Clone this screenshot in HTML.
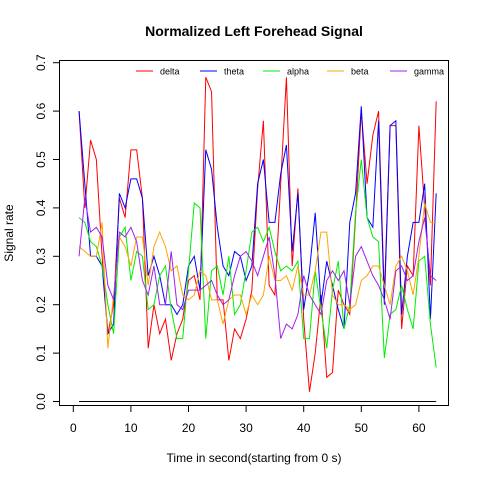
<!DOCTYPE html>
<html><head><meta charset="utf-8"><style>
html,body{margin:0;padding:0;background:#fff;}
svg text{font-family:"Liberation Sans",Arial,sans-serif;}
</style></head><body>
<svg id="chart" width="480" height="480" xmlns="http://www.w3.org/2000/svg">
<text x="254" y="36" text-anchor="middle" font-size="14" font-weight="bold">Normalized Left Forehead Signal</text>
<text x="254" y="462" text-anchor="middle" font-size="12">Time in second(starting from 0 s)</text>
<text transform="translate(13,233) rotate(-90)" text-anchor="middle" font-size="12">Signal rate</text>
<rect x="59.5" y="60.5" width="389" height="345" fill="none" stroke="#000" stroke-width="1"/>
<g id="xaxis"></g>
<g id="yaxis"></g>
<g id="series"></g>
<g id="legend"></g>
</svg>
<script>
const xTicks=[0,10,20,30,40,50,60];
const yTicks=[0,0.1,0.2,0.3,0.4,0.5,0.6,0.7];
const yTickLabels=["0.0","0.1","0.2","0.3","0.4","0.5","0.6","0.7"];
const seriesNames=["delta","theta","alpha","beta","gamma"];
const delta=[0.60,0.40,0.54,0.50,0.30,0.14,0.20,0.42,0.38,0.52,0.52,0.42,0.11,0.20,0.14,0.17,0.085,0.14,0.17,0.25,0.26,0.21,0.67,0.64,0.21,0.21,0.085,0.15,0.13,0.17,0.23,0.44,0.58,0.24,0.22,0.45,0.67,0.28,0.44,0.17,0.02,0.10,0.22,0.05,0.06,0.23,0.20,0.18,0.38,0.60,0.45,0.55,0.60,0.22,0.57,0.57,0.15,0.28,0.26,0.57,0.40,0.24,0.62];
const theta=[0.60,0.45,0.30,0.30,0.28,0.14,0.16,0.43,0.40,0.46,0.46,0.42,0.26,0.30,0.26,0.20,0.20,0.18,0.20,0.28,0.30,0.23,0.52,0.48,0.36,0.28,0.26,0.31,0.30,0.25,0.28,0.45,0.50,0.37,0.37,0.47,0.53,0.31,0.43,0.19,0.27,0.39,0.20,0.29,0.24,0.19,0.15,0.37,0.43,0.61,0.38,0.36,0.58,0.20,0.57,0.58,0.18,0.30,0.37,0.37,0.45,0.17,0.43];
const alpha=[0.38,0.37,0.33,0.32,0.28,0.20,0.14,0.34,0.36,0.25,0.31,0.30,0.19,0.20,0.26,0.28,0.19,0.13,0.13,0.27,0.41,0.40,0.13,0.27,0.28,0.22,0.30,0.18,0.20,0.27,0.35,0.36,0.33,0.36,0.31,0.27,0.28,0.27,0.29,0.13,0.13,0.27,0.19,0.11,0.23,0.29,0.15,0.20,0.39,0.50,0.38,0.34,0.33,0.09,0.18,0.19,0.24,0.19,0.15,0.29,0.30,0.16,0.07];
const beta=[0.32,0.31,0.30,0.30,0.37,0.11,0.22,0.34,0.32,0.28,0.34,0.34,0.24,0.32,0.35,0.32,0.27,0.28,0.22,0.21,0.22,0.27,0.26,0.21,0.21,0.16,0.21,0.22,0.22,0.18,0.22,0.20,0.22,0.30,0.25,0.25,0.26,0.23,0.28,0.22,0.22,0.27,0.35,0.35,0.22,0.20,0.20,0.19,0.20,0.25,0.26,0.28,0.28,0.24,0.20,0.28,0.30,0.27,0.22,0.30,0.41,0.37,0.37];
const gamma=[0.30,0.42,0.35,0.36,0.34,0.24,0.21,0.35,0.34,0.36,0.33,0.25,0.22,0.28,0.20,0.20,0.31,0.20,0.19,0.23,0.23,0.23,0.24,0.25,0.22,0.20,0.21,0.26,0.30,0.31,0.29,0.26,0.30,0.34,0.26,0.13,0.16,0.15,0.18,0.26,0.22,0.20,0.18,0.25,0.27,0.25,0.27,0.20,0.30,0.32,0.29,0.26,0.24,0.21,0.17,0.27,0.28,0.25,0.26,0.33,0.38,0.26,0.25];
const zeroLine=new Array(63).fill(0);
const NS="http://www.w3.org/2000/svg";
const X=v=>73.3+5.76*v;
const Y=v=>401.5-484*v;
function mk(tag,attrs,parent){const e=document.createElementNS(NS,tag);for(const k in attrs)e.setAttribute(k,attrs[k]);parent.appendChild(e);return e;}
const xa=document.getElementById('xaxis'),ya=document.getElementById('yaxis'),sg=document.getElementById('series'),lg=document.getElementById('legend');
mk('line',{x1:X(xTicks[0]),x2:X(xTicks[xTicks.length-1]),y1:405.5,y2:405.5,stroke:'#000'},xa);
xTicks.forEach(t=>{
  const l=mk('line',{x1:X(t),x2:X(t),y1:405.5,y2:412,stroke:'#000'},xa);
  
  
  const tx=mk('text',{x:X(t),y:432,'text-anchor':'middle','font-size':12},xa);
  tx.textContent=t;
  
  
});
mk('line',{x1:59.5,x2:59.5,y1:Y(0),y2:Y(0.7),stroke:'#000'},ya);
yTicks.forEach((t,i)=>{
  const l=mk('line',{x1:53,x2:59.5,y1:Y(t),y2:Y(t),stroke:'#000'},ya);
  
  
  const tx=mk('text',{transform:`translate(45,${Y(t)}) rotate(-90)`,'text-anchor':'middle','font-size':12},ya);
  tx.textContent=yTickLabels[i];
  
  
});
const zl=mk('polyline',{points:zeroLine.map((v,i)=>X(i+1)+','+Y(v)).join(' '),fill:'none',stroke:'#000','stroke-width':1},sg);


const data=[delta,theta,alpha,beta,gamma];
const colors=['#ff0000','#0000ff','#00ee00','#ffa500','#a020f0'];
data.forEach((arr,k)=>{
  const p=mk('polyline',{points:arr.map((v,i)=>X(i+1)+','+Y(v)).join(' '),fill:'none',stroke:colors[k],'stroke-width':1},sg);
  
  
});
const lx=[136,200,263,327,390];
seriesNames.forEach((n,k)=>{
  const g=mk('g',{},lg);
  
  
  mk('line',{x1:lx[k],x2:lx[k]+17,y1:71,y2:71,stroke:colors[k]},g);
  const t=mk('text',{x:lx[k]+24,y:74.5,'font-size':9},g);
  t.textContent=n;
});
</script>
</body></html>
